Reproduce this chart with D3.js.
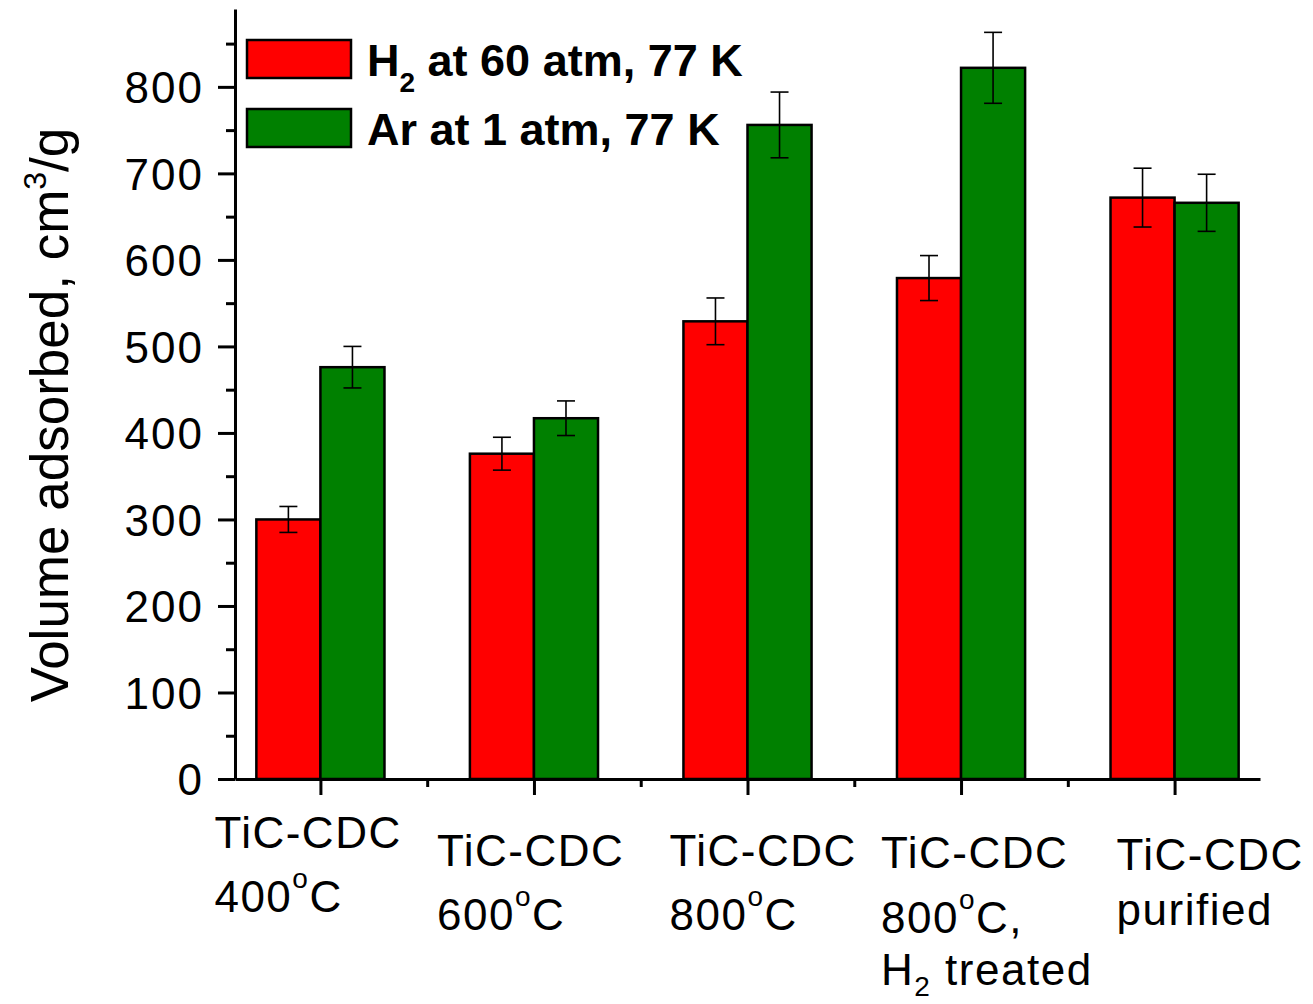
<!DOCTYPE html>
<html><head><meta charset="utf-8">
<script src="https://cdn.jsdelivr.net/npm/d3@7"></script>
<style>body{margin:0;background:#fff;} text{font-family:Arial,"Liberation Sans",sans-serif;fill:#000;}</style>
</head><body>
<svg id="c" width="1313" height="1004"></svg>
<script>
// ---- data ----
const categories = ["TiC-CDC 400°C", "TiC-CDC 600°C", "TiC-CDC 800°C", "TiC-CDC 800°C, H2 treated", "TiC-CDC purified"];
const h2Values = [300, 376, 529, 579, 672];
const h2Errors = [15, 19, 27, 26, 34];
const arValues = [476, 417, 756, 822, 666];
const arErrors = [24, 20, 38, 41, 33];
const yTicks = [0, 100, 200, 300, 400, 500, 600, 700, 800];
const seriesNames = ["H2 at 60 atm, 77 K", "Ar at 1 atm, 77 K"];

// ---- layout ----
const svg = d3.select("#c");
const x = d3.scaleLinear().domain([0.6, 5.4]).range([235, 1260]);
const y = d3.scaleLinear().domain([0, 890]).range([779, 9]);
const barW = 0.3;
const colors = ["#ff0000", "#008000"];

// bars
const series = [
  {vals: h2Values, errs: h2Errors, off: -barW, color: colors[0]},
  {vals: arValues, errs: arErrors, off: 0, color: colors[1]}
];
series.forEach(s => {
  s.vals.forEach((v, i) => {
    const c = i + 1;
    svg.append("rect")
      .attr("x", x(c + s.off)).attr("width", x(c + s.off + barW) - x(c + s.off))
      .attr("y", y(v)).attr("height", y(0) - y(v))
      .attr("fill", s.color).attr("stroke", "#000").attr("stroke-width", 2.5);
  });
});
// error bars
series.forEach(s => {
  s.vals.forEach((v, i) => {
    const cx = x(i + 1 + s.off + barW / 2);
    const g = svg.append("g").attr("stroke", "#000").attr("stroke-width", 1.6);
    g.append("line").attr("x1", cx).attr("x2", cx).attr("y1", y(v + s.errs[i])).attr("y2", y(v - s.errs[i]));
    [v + s.errs[i], v - s.errs[i]].forEach(e => {
      g.append("line").attr("x1", cx - 9).attr("x2", cx + 9).attr("y1", y(e)).attr("y2", y(e));
    });
  });
});

// y axis
const yAxis = svg.append("g").attr("transform", "translate(235,0)")
  .call(d3.axisLeft(y).tickValues(yTicks).tickSize(17).tickSizeOuter(0).tickPadding(14).tickFormat(d3.format("d")));
yAxis.select(".domain").attr("stroke-width", 3);
yAxis.selectAll(".tick line").attr("stroke-width", 3);
yAxis.selectAll(".tick text").attr("font-size", 44).attr("letter-spacing", 2).attr("dy", "0.36em");
svg.append("g").attr("transform", "translate(235,0)")
  .call(d3.axisLeft(y).tickValues(d3.range(50, 900, 100)).tickSize(9).tickFormat(""))
  .call(g => g.select(".domain").remove())
  .selectAll(".tick line").attr("stroke-width", 3);

// x axis
const xAxis = svg.append("g").attr("transform", "translate(0,779)")
  .call(d3.axisBottom(x).tickValues([1, 2, 3, 4, 5]).tickSize(16).tickSizeOuter(0).tickFormat(""));
xAxis.select(".domain").attr("stroke-width", 3);
xAxis.selectAll(".tick line").attr("stroke-width", 3);
svg.append("g").attr("transform", "translate(0,779)")
  .call(d3.axisBottom(x).tickValues([1.5, 2.5, 3.5, 4.5]).tickSize(8).tickFormat(""))
  .call(g => g.select(".domain").remove())
  .selectAll(".tick line").attr("stroke-width", 3);

// category labels (manually placed as in original)
const labelDx = [-106, -97, -78, -80, -58];
const labelBase = [[848, 912], [866, 930], [866, 930], [868, 933, 985], [870, 925]];
function addRich(t, parts) {
  parts.forEach(p => {
    const ts = t.append("tspan").text(p.t);
    if (p.sup) ts.attr("font-size", 28).attr("dy", -24);
    if (p.sub) ts.attr("font-size", 28).attr("dy", 11);
    if (p.back) ts.attr("dy", p.back);
  });
}
const labelLines = [
  [[{t: "TiC-CDC"}], [{t: "400"}, {t: "o", sup: 1}, {t: "C", back: 24}]],
  [[{t: "TiC-CDC"}], [{t: "600"}, {t: "o", sup: 1}, {t: "C", back: 24}]],
  [[{t: "TiC-CDC"}], [{t: "800"}, {t: "o", sup: 1}, {t: "C", back: 24}]],
  [[{t: "TiC-CDC"}], [{t: "800"}, {t: "o", sup: 1}, {t: "C,", back: 24}], [{t: "H"}, {t: "2", sub: 1}, {t: " treated", back: -11}]],
  [[{t: "TiC-CDC"}], [{t: "purified"}]]
];
labelLines.forEach((lines, i) => {
  lines.forEach((parts, j) => {
    const t = svg.append("text").attr("x", x(i + 1) + labelDx[i]).attr("y", labelBase[i][j])
      .attr("font-size", 44).attr("letter-spacing", 1.5);
    addRich(t, parts);
  });
});

// y title
const yt = svg.append("text").attr("transform", "translate(68,415) rotate(-90)")
  .attr("text-anchor", "middle").attr("font-size", 53);
yt.append("tspan").text("Volume adsorbed, cm");
yt.append("tspan").text("3").attr("font-size", 32).attr("dy", -22);
yt.append("tspan").text("/g").attr("dy", 22);

// legend
const legY = [40, 109];
seriesNames.forEach((n, i) => {
  svg.append("rect").attr("x", 247).attr("y", legY[i]).attr("width", 104).attr("height", 38)
    .attr("fill", colors[i]).attr("stroke", "#000").attr("stroke-width", 2.5);
  const t = svg.append("text").attr("x", 367).attr("y", legY[i] + 36)
    .attr("font-size", 45).attr("font-weight", "bold");
  if (i === 0) {
    t.append("tspan").text("H");
    t.append("tspan").text("2").attr("font-size", 28).attr("dy", 16);
    t.append("tspan").text(" at 60 atm, 77 K").attr("dy", -16);
  } else {
    t.text(n);
  }
});
</script>
</body></html>
